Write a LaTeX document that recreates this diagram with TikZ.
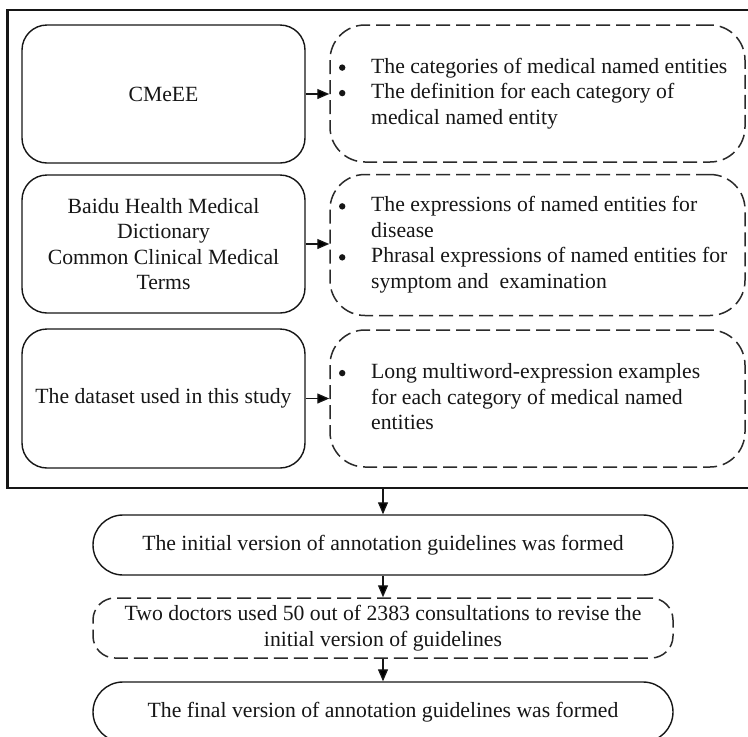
\documentclass[tikz,border=0pt]{standalone}
\usepackage{fontspec}
\setmainfont{Liberation Serif}
\usetikzlibrary{arrows.meta}
\definecolor{ink}{HTML}{161616}
\definecolor{dashink}{HTML}{2A2A2A}
\newcommand{\bodyfont}{\fontsize{21.7}{25.5}\selectfont}
\newcommand{\blt}{\tikz[baseline={(0pt,-5.5pt)}]\fill[ink] (0pt,0pt) circle (3.2pt);}
\tikzset{
  solidbox/.style={draw=ink, line width=1.4pt, rounded corners=25pt, inner sep=0pt, text=ink, align=center, font=\bodyfont},
  dashbox/.style={draw=dashink, line width=1.5pt, dash pattern=on 14pt off 6pt, rounded corners=35pt, inner sep=0pt, text=ink, font=\bodyfont},
  pillbox/.style={draw=ink, line width=1.4pt, rounded corners=30pt, inner sep=0pt, text=ink, align=center, font=\bodyfont, minimum width=580pt, minimum height=60pt},
  pilldash/.style={draw=dashink, line width=1.5pt, dash pattern=on 14pt off 6pt, rounded corners=22pt, inner sep=0pt, text=ink, align=center, font=\bodyfont, minimum width=580pt, minimum height=60pt},
  frame/.style={draw=ink, line width=2.8pt, inner sep=0pt},
  listtext/.style={inner sep=0pt, anchor=west, text=ink, font=\bodyfont},
  conn/.style={draw=ink, line width=1.3pt, -{Triangle[length=12pt,width=10pt]}}
}
\begin{document}
\begin{tikzpicture}[x=1pt,y=-1pt]
\useasboundingbox (0,0) rectangle (748,737);
\clip (0,0) rectangle (748,737);
\fill[white] (0,0) rectangle (748,737);
% outer frame
\node[frame, minimum width=742.5pt, minimum height=478pt] (F) at (378.75,249) {};
% left source boxes
\node[solidbox, minimum width=283pt, minimum height=138pt] (s1) at (163.5,94) {CMeEE};
\node[solidbox, minimum width=283pt, minimum height=138pt] (s2) at (163.5,244) {Baidu Health Medical\\Dictionary\\Common Clinical Medical\\Terms};
\node[solidbox, minimum width=283pt, minimum height=139pt] (s3) at (163.5,398.5) {The dataset used in this study};
% right dashed boxes
\node[dashbox, minimum width=415pt, minimum height=137pt] (d1) at (537.5,93.5) {};
\node[dashbox, minimum width=415pt, minimum height=141pt] (d2) at (537.5,245) {};
\node[dashbox, minimum width=415pt, minimum height=137pt] (d3) at (537.5,398.5) {};
% list texts
\node[listtext] (t1) at (338.8,93.5) {\begin{tabular}{@{}p{32.2pt}@{}l@{}}
\blt & The categories of medical named entities\\
\blt & The definition for each category of\\
 & medical named entity
\end{tabular}};
\node[listtext] (t2) at (338.8,245) {\begin{tabular}{@{}p{32.2pt}@{}l@{}}
\blt & The expressions of named entities for\\
 & disease\\
\blt & Phrasal expressions of named entities for\\
 & symptom and\ \ examination
\end{tabular}};
\node[listtext] (t3) at (338.8,399) {\begin{tabular}{@{}p{32.2pt}@{}l@{}}
\blt & Long multiword-expression examples\\
 & for each category of medical named\\
 & entities
\end{tabular}};
% connectors inside frame
\draw[conn] (s1.east) -- (s1.east -| d1.west);
\draw[conn] (s2.east) -- (s2.east -| d2.west);
\draw[conn] (s3.east) -- (s3.east -| d3.west);
% bottom flow
\node[pillbox] (init) at (383,545) {The initial version of annotation guidelines was formed};
\node[pilldash] (rev) at (383,628) {Two doctors used 50 out of 2383 consultations to revise the\\initial version of guidelines};
\node[pillbox] (final) at (383,712) {The final version of annotation guidelines was formed};
\draw[conn] (init.north |- F.south) -- (init.north);
\draw[conn] (init.south) -- (rev.north);
\draw[conn] (rev.south) -- (final.north);
\end{tikzpicture}
\end{document}
